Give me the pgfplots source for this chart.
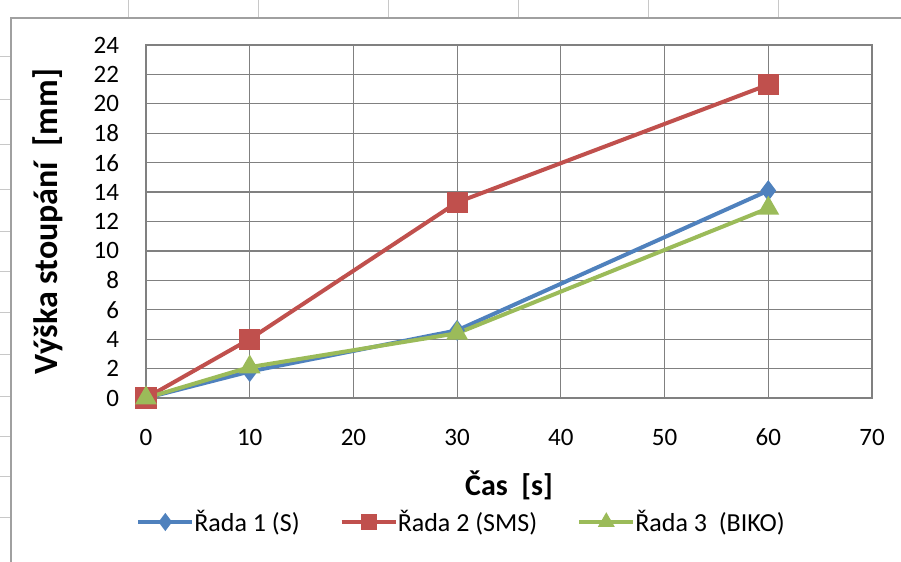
\documentclass[border=0pt]{standalone}
\usepackage{fontspec}
\setmainfont{Carlito}
\usepackage{pgfplots}
\pgfplotsset{compat=1.18}
\definecolor{xblue}{RGB}{79,129,189}
\definecolor{xred}{RGB}{192,80,77}
\definecolor{xgreen}{RGB}{155,187,89}
\definecolor{gridc}{RGB}{128,128,128}
\definecolor{framec}{RGB}{160,160,160}
\definecolor{cellc}{RGB}{200,200,200}
\begin{document}
\begin{tikzpicture}
\useasboundingbox (0,0) rectangle (450.5pt,281pt);
% spreadsheet cell marks
\foreach \xx in {128,258,388,518,648,778} {
  \draw[cellc, line width=0.5pt] (\xx*0.5pt,272pt) -- (\xx*0.5pt,281pt);
}
\foreach \yy in {57,100,145,190,232,272,313,355,397,437,477,518} {
  \draw[cellc, line width=0.5pt] (0pt,{(562-\yy)*0.5pt}) -- (5.5pt,{(562-\yy)*0.5pt});
}
\draw[framec, line width=0.8pt] (5.5pt,0pt) -- (5.5pt,272pt) -- (450.5pt,272pt);
\begin{axis}[
  at={(73pt,82pt)}, anchor=south west,
  scale only axis, width=363pt, height=176.5pt,
  xmin=0, xmax=70, ymin=0, ymax=24,
  xtick={0,10,...,70}, ytick={0,2,...,24},
  grid=major,
  grid style={gridc, line width=0.6pt},
  axis line style={gridc, line width=0.6pt},
  major tick length=0pt,
  tick label style={font=\fontsize{12.5}{14}\selectfont},
  /pgf/number format/assume math mode=true,
  xticklabel style={yshift=-12pt},
  yticklabel style={xshift=-10pt},
  xlabel={Čas\ \ [s]},
  ylabel={Výška stoupání\ \ [mm]},
  xlabel style={font=\bfseries\fontsize{15}{17}\selectfont, at={(axis description cs:0.5,0)}, anchor=center, yshift=-43.5pt},
  ylabel style={font=\bfseries\fontsize{17}{19}\selectfont, at={(axis description cs:-0.135,0.5)}, anchor=center},
  clip=false,
  legend columns=3,
  legend style={draw=none, fill=none, at={(axis description cs:0.436,0)}, anchor=center, yshift=-62pt, font=\fontsize{13}{15}\selectfont,
    /tikz/every even column/.append style={column sep=18pt},
    /tikz/every odd column/.append style={column sep=-2pt}},
  legend image code/.code={\draw[mark repeat=2,mark phase=2,mark size=2.9pt] plot coordinates {(0cm,0cm)(0.475cm,0cm)(0.95cm,0cm)};},
]
\addplot[xblue, line width=2pt, mark=diamond*, mark size=3.6pt, mark options={solid}] coordinates {(0,0) (10,1.8) (30,4.6) (60,14.1)};
\addlegendentry{Řada 1 (S)}
\addplot[xred, line width=2pt, mark=square*, mark size=4.3pt] coordinates {(0,0) (10,4.0) (30,13.3) (60,21.3)};
\addlegendentry{Řada 2 (SMS)}
\addplot[xgreen, line width=2pt, mark=triangle*, mark size=4.3pt] coordinates {(0,0) (10,2.1) (30,4.4) (60,12.9)};
\addlegendentry{Řada 3\ \ (BIKO)}
\end{axis}
\end{tikzpicture}
\end{document}
